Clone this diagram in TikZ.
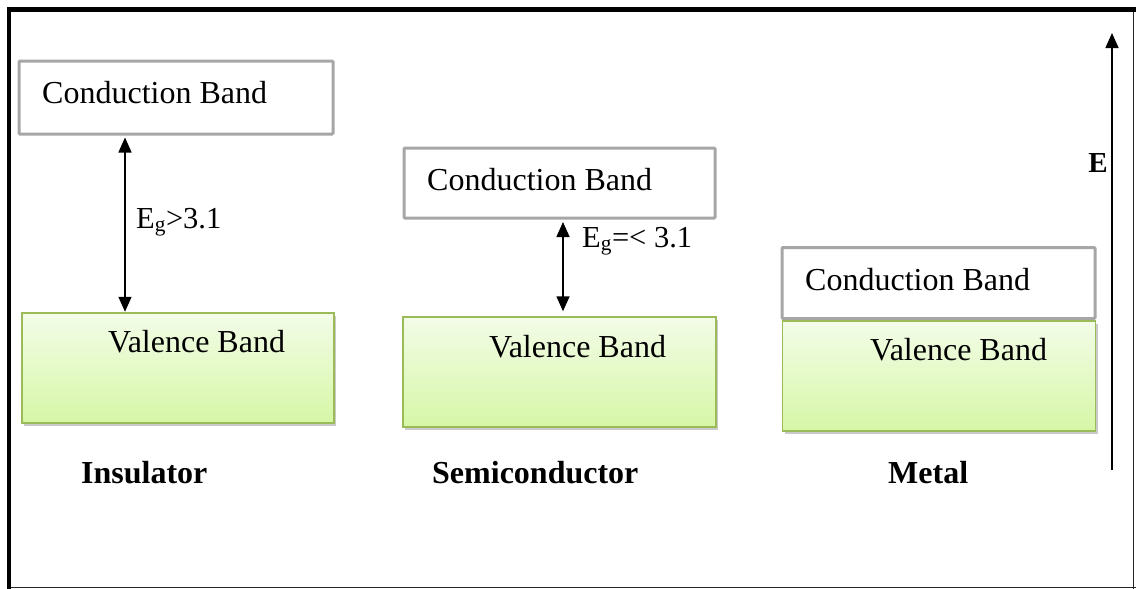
\documentclass[tikz,border=0pt]{standalone}
\usepackage{fontspec}
\setmainfont{Liberation Serif}
\usetikzlibrary{arrows.meta,shadows}
\definecolor{cbgray}{HTML}{A6A6A6}
\definecolor{vbline}{HTML}{9BBB59}
\definecolor{vbtop}{HTML}{F3FCE8}
\definecolor{vbbot}{HTML}{D6F7A6}
\tikzset{
  cbox/.style={draw=cbgray, line width=3pt, fill=white, rounded corners=1pt, inner sep=0pt},
  vbox/.style={draw=vbline, line width=1.5pt, top color=vbtop, bottom color=vbbot, inner sep=0pt,
    drop shadow={shadow xshift=2pt, shadow yshift=-3pt, opacity=0.35, fill=black!60}},
  bandtxt/.style={anchor=base west, inner sep=0pt, font=\fontsize{32}{38}\selectfont},
  vtxt/.style={anchor=base west, inner sep=0pt, font=\fontsize{32}{38}\selectfont},
  gaptxt/.style={anchor=base west, inner sep=0pt, font=\fontsize{30.5}{36}\selectfont},
  mattxt/.style={anchor=base west, inner sep=0pt, font=\fontsize{32}{38}\selectfont\bfseries},
  dbl/.style={line width=1.6pt, {Triangle[width=13pt,length=15pt]}-{Triangle[width=13pt,length=15pt]}},
  sgl/.style={line width=1.6pt, -{Triangle[width=13pt,length=15pt]}}
}
\begin{document}
\begin{tikzpicture}[x=1pt,y=-1pt]
\useasboundingbox (0,0) rectangle (1136,589);
% frame
\draw[line width=1.8pt, black!85] (1133.5,9) -- (1133.5,589);
\draw[line width=1.8pt, black!85] (9,587.5) -- (1136,587.5);
\draw[line width=4.5pt] (9,589) -- (9,9.5) -- (1136,9.5);

% Insulator
\node[cbox, minimum width=314pt, minimum height=73pt] (icb) at (176,97.5) {};
\node[vbox, minimum width=312pt, minimum height=110pt] (ivb) at (178,368) {};
\node[bandtxt] (icbt) at (42,103) {Conduction Band};
\node[vtxt] (ivbt) at (108,352) {Valence Band};
\coordinate (ix) at (125,0);
\draw[dbl, shorten <=2pt, shorten >=0.5pt] (icb.south -| ix) -- (ivb.north -| ix);
\node[gaptxt] (ieg) at (136,228) {E\textsubscript{g}>3.1};
\node[mattxt] (ins) at (81,483) {Insulator};

% Semiconductor
\node[cbox, minimum width=311pt, minimum height=70pt] (scb) at (559.5,183) {};
\node[vbox, minimum width=313pt, minimum height=110pt] (svb) at (559.5,372) {};
\node[bandtxt] (scbt) at (427,190) {Conduction Band};
\node[vtxt] (svbt) at (489,357) {Valence Band};
\coordinate (sx) at (563,0);
\draw[dbl, shorten <=2.5pt, shorten >=5pt] (scb.south -| sx) -- (svb.north -| sx);
\node[gaptxt] (seg) at (582,247) {E\textsubscript{g}=< 3.1};
\node[mattxt] (sem) at (432,483) {Semiconductor};

% Metal
\node[cbox, minimum width=313pt, minimum height=71pt] (mcb) at (938.5,283) {};
\node[vbox, minimum width=313pt, minimum height=110pt] (mvb) at (939,376) {};
\node[bandtxt] (mcbt) at (805,290) {Conduction Band};
\node[vtxt] (mvbt) at (870,360) {Valence Band};
\node[mattxt] (met) at (888,483) {Metal};

% Energy axis
\coordinate (ebot) at (1112,470);
\coordinate (etop) at (1112,33);
\draw[sgl] (ebot) -- (etop);
\node[anchor=base east, inner sep=0pt, font=\fontsize{29}{34}\selectfont\bfseries] (elab) at (1108,172) {E};
\end{tikzpicture}
\end{document}
